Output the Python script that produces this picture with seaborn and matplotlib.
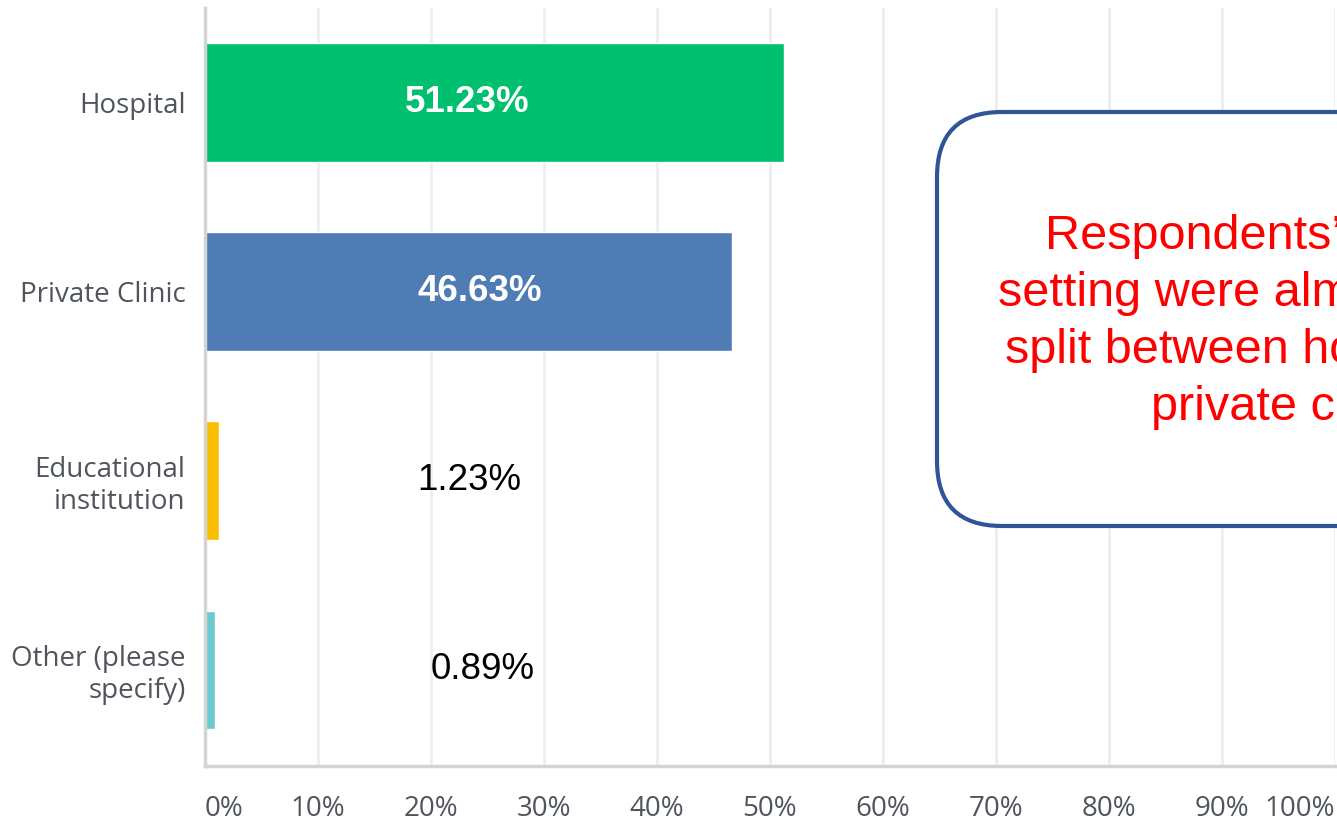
"""
Practice setting of survey respondents - horizontal bar chart with a callout box.
"""

import pandas as pd
import matplotlib.pyplot as plt
import matplotlib.patches as mpatches
import seaborn as sns

# data
categories = ["Hospital", "Private Clinic", "Educational\ninstitution", "Other (please\nspecify)"]
shares = [51.23, 46.63, 1.23, 0.89]
bar_colors = ["#00BF6F", "#507CB6", "#F9BE00", "#6CC9CE"]
label_bold = [True, True, False, False]
tick_values = [0, 10, 20, 30, 40, 50, 60, 70, 80, 90, 100]
tick_labels = ["0%", "10%", "20%", "30%", "40%", "50%", "60%", "70%", "80%", "90%", "100%"]
note = "Respondents\u2019 practice\nsetting were almost evenly\nsplit between hospital and\nprivate clinic"

# x centres of the value labels (layout only)
LABEL_X = [23.2, 24.3, 23.4, 24.6]
TICK_COLOR = "#50555D"
AXIS_COLOR = "#D4D4D4"


def main():
    sns.set_style("white")
    plt.rcParams["font.family"] = ["Open Sans", "DejaVu Sans"]

    df = pd.DataFrame({"category": categories, "share": shares})

    fig = plt.figure(figsize=(13.37, 8.22), dpi=100)
    ax = fig.add_axes([205 / 1337, 1 - 766 / 822, 1130 / 1337, 758 / 822])

    sns.barplot(
        data=df, x="share", y="category", hue="category",
        palette=dict(zip(categories, bar_colors)), order=categories,
        orient="h", width=0.625, legend=False, saturation=1, ax=ax,
    )

    ax.set_xlim(0, 100)
    ax.set_ylim(3.51, -0.5)
    ax.set_xlabel("")
    ax.set_ylabel("")

    ax.set_xticks(tick_values)
    ax.set_xticklabels(tick_labels)
    xt = ax.get_xticklabels()
    xt[0].set_ha("left")
    xt[-1].set_ha("right")

    ax.tick_params(axis="x", length=0, pad=21, labelsize=20, labelcolor=TICK_COLOR)
    ax.tick_params(axis="y", length=0, pad=14, labelsize=20, labelcolor=TICK_COLOR)

    ax.xaxis.grid(True, color="#EEEEEE", linewidth=2)
    ax.yaxis.grid(False)
    ax.set_axisbelow(True)
    for side in ["top", "right"]:
        ax.spines[side].set_visible(False)
    for side in ["left", "bottom"]:
        ax.spines[side].set_color(AXIS_COLOR)
        ax.spines[side].set_linewidth(2.5)

    for i, (v, bold) in enumerate(zip(shares, label_bold)):
        ax.text(
            LABEL_X[i], i, f"{v:.2f}%", ha="center", va="center",
            fontsize=26.5, family="Liberation Sans",
            fontweight="bold" if bold else "normal",
            color="white" if bold else "black",
        )

    # callout box, runs off the right edge like the original slide
    box = mpatches.FancyBboxPatch(
        (9.37, 2.96), 6.96, 4.14,
        boxstyle="round,pad=0,rounding_size=0.65",
        transform=fig.dpi_scale_trans, facecolor="white",
        edgecolor="#2F5597", linewidth=3, clip_on=False,
    )
    fig.patches.append(box)
    fig.text(
        12.85 / 13.37, 5.0 / 8.22, note, ha="center", va="center",
        multialignment="center", fontsize=35, family="Liberation Sans",
        color="#FF0000", linespacing=1.34,
    )

    fig.savefig("out.png", dpi=100)
    plt.close(fig)


if __name__ == "__main__":
    main()
